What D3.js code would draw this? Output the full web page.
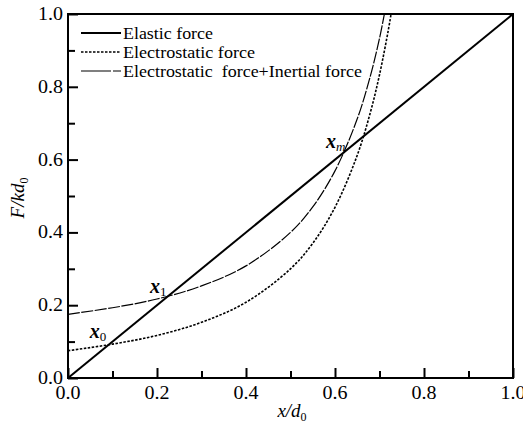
<!DOCTYPE html>
<html><head><meta charset="utf-8">
<script src="https://cdn.jsdelivr.net/npm/d3@7"></script>
<style>body{margin:0;background:#fff}svg{display:block}</style>
</head><body><svg id="c" width="523" height="428"></svg>
<script>
const xTicks = [0.0, 0.2, 0.4, 0.6, 0.8, 1.0];
const yTicks = [0.0, 0.2, 0.4, 0.6, 0.8, 1.0];
const seriesNames = ["Elastic force", "Electrostatic force", "Electrostatic  force+Inertial force"];
const elastic = [[0, 0], [1, 1]];
const electrostatic = [[0,0.075],[0.1,0.093],[0.2,0.117],[0.3,0.153],[0.4,0.208],[0.5,0.300],[0.55,0.370],[0.6,0.469],[0.65,0.612],[0.68,0.732],[0.7,0.833],[0.72,0.957],[0.726,1.0]];
const inertial = [[0,0.175],[0.1,0.193],[0.2,0.217],[0.3,0.253],[0.4,0.308],[0.5,0.400],[0.55,0.470],[0.6,0.569],[0.65,0.712],[0.68,0.832],[0.7,0.933],[0.711,1.0]];
const pointLabels = [{name:"x", sub:"0", x:0.085, y:0.09}, {name:"x", sub:"1", x:0.22, y:0.22}, {name:"x", sub:"m", x:0.62, y:0.62}];

// pick an installed serif face
const ctx = document.createElement("canvas").getContext("2d");
function has(name){
  const s = "Elastic force 0.123";
  ctx.font = `20px "${name}", monospace`; const a = ctx.measureText(s).width;
  ctx.font = `20px monospace`; const b = ctx.measureText(s).width;
  ctx.font = `20px "${name}", sans-serif`; const c = ctx.measureText(s).width;
  ctx.font = `20px sans-serif`; const d = ctx.measureText(s).width;
  return a !== b || c !== d;
}
const cands = ["Liberation Serif","Times New Roman","DejaVu Serif","Noto Serif","Tinos","FreeSerif","Nimbus Roman","Liberation Sans Narrow","Liberation Sans"];
const found = cands.find(has) || "serif";
const FONT = `"${found}", serif`;

const svg = d3.select("#c").attr("font-family", FONT);
const L = 68, R = 513, T = 14, B = 378;
const x = d3.scaleLinear().domain([0,1]).range([L,R]);
const y = d3.scaleLinear().domain([0,1]).range([B,T]);

svg.append("clipPath").attr("id","cp").append("rect").attr("x",L).attr("y",T).attr("width",R-L).attr("height",B-T);

const line = d3.line().x(d=>x(d[0])).y(d=>y(d[1])).curve(d3.curveCatmullRom.alpha(0.5));
const g = svg.append("g").attr("clip-path","url(#cp)");
g.append("path").datum(elastic).attr("d",line).attr("fill","none").attr("stroke","#000").attr("stroke-width",2);
g.append("path").datum(electrostatic).attr("d",line).attr("fill","none").attr("stroke","#000").attr("stroke-width",1.6).attr("stroke-dasharray","2.5,1.5");
g.append("path").datum(inertial).attr("d",line).attr("fill","none").attr("stroke","#000").attr("stroke-width",1.2).attr("stroke-dasharray","12,1.5");

svg.append("rect").attr("x",L).attr("y",T).attr("width",R-L).attr("height",B-T).attr("fill","none").attr("stroke","#000").attr("stroke-width",2);

const minor = d3.range(0.1,1.0,0.2);
svg.append("g").attr("transform",`translate(0,${B})`).call(d3.axisTop(x).tickValues(xTicks).tickSize(10).tickFormat(""));
svg.append("g").attr("transform",`translate(0,${B})`).call(d3.axisTop(x).tickValues(minor).tickSize(7).tickFormat(""));
svg.append("g").attr("transform",`translate(${L},0)`).call(d3.axisRight(y).tickValues(yTicks).tickSize(10).tickFormat(""));
svg.append("g").attr("transform",`translate(${L},0)`).call(d3.axisRight(y).tickValues(minor).tickSize(7).tickFormat(""));
svg.selectAll(".domain").remove();
svg.selectAll(".tick line").attr("stroke","#000").attr("stroke-width",2);

svg.append("g").selectAll("text").data(xTicks).join("text")
  .attr("x",d=>x(d)).attr("y",B+21).attr("text-anchor","middle").attr("font-size",19)
  .attr("textLength",25).attr("lengthAdjust","spacingAndGlyphs").text(d=>d.toFixed(1));
svg.append("g").selectAll("text").data(yTicks).join("text")
  .attr("x",L-5).attr("y",d=>y(d)+6).attr("text-anchor","end").attr("font-size",19)
  .attr("textLength",25).attr("lengthAdjust","spacingAndGlyphs").text(d=>d.toFixed(1));

const xt = svg.append("text").attr("x",292).attr("y",417).attr("text-anchor","middle").attr("font-size",19);
xt.append("tspan").attr("font-style","italic").text("x/d");
xt.append("tspan").attr("font-size",12).attr("dy",4).text("0");
const yt = svg.append("text").attr("transform","translate(24,198) rotate(-90)").attr("text-anchor","middle").attr("font-size",19);
yt.append("tspan").attr("font-style","italic").text("F/kd");
yt.append("tspan").attr("font-size",12).attr("dy",4).text("0");

const styles = [{w:2,d:null,len:90},{w:1.4,d:"2.5,1.5",len:132},{w:1.2,d:"30,2",len:239}];
const lg = svg.append("g");
seriesNames.forEach((n,i)=>{
  const yy = 33 + i*19;
  lg.append("line").attr("x1",81).attr("x2",121).attr("y1",yy).attr("y2",yy).attr("stroke","#000").attr("stroke-width",styles[i].w).attr("stroke-dasharray",styles[i].d);
  lg.append("text").attr("x",123).attr("y",yy+6).attr("font-size",17).style("white-space","pre")
    .attr("textLength",styles[i].len).attr("lengthAdjust","spacingAndGlyphs").text(n);
});

const offs = [[-16,-7],[-16,-5],[-18,-4]];
pointLabels.forEach((p,i)=>{
  const t = svg.append("text").attr("x",x(p.x)+offs[i][0]).attr("y",y(p.y)+offs[i][1]).attr("font-size",20);
  t.append("tspan").attr("font-weight","bold").attr("font-style","italic").text(p.name);
  t.append("tspan").attr("font-size",13).attr("dy",3).attr("font-style",p.sub==="m"?"italic":"normal").text(p.sub);
});
</script></body></html>
